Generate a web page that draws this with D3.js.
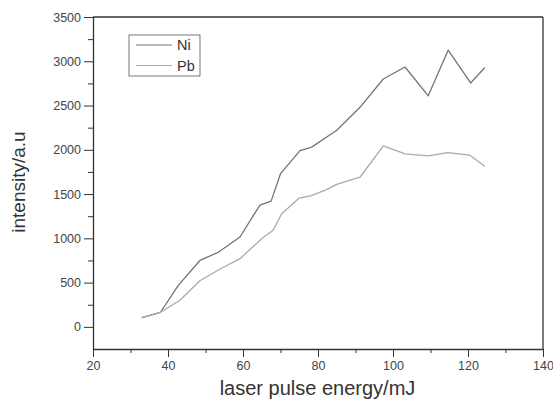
<!DOCTYPE html>
<html>
<head>
<meta charset="utf-8">
<script src="https://cdn.jsdelivr.net/npm/d3@7"></script>
<style>
  body { margin: 0; background: #fff; }
  text { font-family: "Liberation Sans", Arial, sans-serif; }
</style>
</head>
<body>
<div id="chart"></div>
<script>
// data
const niEnergy    = [33, 38, 42.7, 48.5, 53.5, 59.2, 64.5, 67.5, 70, 75.2, 78.3, 85, 91.2, 97.4, 103.2, 109.4, 114.7, 120.7, 124.5];
const niIntensity = [105, 165, 465, 750, 845, 1015, 1375, 1420, 1730, 1990, 2030, 2220, 2480, 2800, 2935, 2610, 3125, 2755, 2930];
const pbEnergy    = [33, 38, 43.2, 48.5, 53.9, 59.2, 65.4, 68, 70.3, 75, 78, 82.3, 85, 91.2, 97.4, 103.2, 109.4, 114.5, 120.5, 124.5];
const pbIntensity = [105, 165, 300, 521, 654, 770, 1012, 1088, 1277, 1455, 1480, 1550, 1610, 1690, 2045, 1955, 1931, 1969, 1939, 1815];
const xTicks = [20, 40, 60, 80, 100, 120, 140];
const yTicks = [0, 500, 1000, 1500, 2000, 2500, 3000, 3500];

const margin = {top: 17, right: 10, bottom: 55, left: 93},
      width = 553 - margin.left - margin.right,
      height = 404 - margin.top - margin.bottom;

const svg = d3.select("#chart")
              .append("svg")
              .attr("width", 553)
              .attr("height", 404)
              .append("g")
              .attr("transform", `translate(${margin.left},${margin.top})`);

const x = d3.scaleLinear().domain([20, 140]).range([0, width]);
const y = d3.scaleLinear().domain([-250, 3500]).range([height, 0]);

const axisColor = "#333";

// minor ticks
svg.append("g")
   .attr("transform", `translate(0,${height})`)
   .call(d3.axisBottom(x).tickValues(d3.range(30, 140, 20)).tickSize(4).tickFormat(""))
   .call(g => g.select(".domain").remove());
svg.append("g")
   .call(d3.axisLeft(y).tickValues(d3.range(250, 3500, 500)).tickSize(5).tickFormat(""))
   .call(g => g.select(".domain").remove());

// main axes
const xAxis = svg.append("g")
   .attr("transform", `translate(0,${height})`)
   .call(d3.axisBottom(x).tickValues(xTicks).tickFormat(d3.format("d"))
           .tickSize(8).tickPadding(4).tickSizeOuter(0));
const yAxis = svg.append("g")
   .call(d3.axisLeft(y).tickValues(yTicks).tickFormat(d3.format("d"))
           .tickSize(9).tickPadding(3).tickSizeOuter(0));

[xAxis, yAxis].forEach(g => {
  g.selectAll("text").style("font-size", "12.5px").attr("fill", "#444");
});
svg.selectAll(".tick line").attr("stroke", axisColor);
svg.selectAll(".domain").attr("stroke", axisColor).attr("stroke-width", 1.3);

// top and right frame
svg.append("line").attr("x1", 0).attr("x2", width).attr("y1", 0).attr("y2", 0)
   .attr("stroke", axisColor).attr("stroke-width", 1.3);
svg.append("line").attr("x1", width).attr("x2", width).attr("y1", 0).attr("y2", height)
   .attr("stroke", axisColor).attr("stroke-width", 1.3);

// lines
const line = d3.line().x(d => x(d[0])).y(d => y(d[1]));
const series = [
  {name: "Ni", color: "#747474", pts: d3.zip(niEnergy, niIntensity)},
  {name: "Pb", color: "#aaaaaa", pts: d3.zip(pbEnergy, pbIntensity)}
];

svg.selectAll(".series")
   .data(series)
   .enter()
   .append("path")
   .attr("fill", "none")
   .attr("stroke", d => d.color)
   .attr("stroke-width", 1.3)
   .attr("stroke-linejoin", "round")
   .attr("d", d => line(d.pts));

// legend
const legend = svg.append("g").attr("transform", "translate(36,18)");
legend.append("rect")
      .attr("width", 71).attr("height", 41)
      .attr("fill", "#fff").attr("stroke", "#555").attr("stroke-width", 0.8);
series.forEach((s, i) => {
  const yy = 10 + i * 20.5;
  legend.append("line")
        .attr("x1", 7).attr("x2", 43).attr("y1", yy).attr("y2", yy)
        .attr("stroke", s.color).attr("stroke-width", 1.2);
  legend.append("text")
        .attr("x", 48).attr("y", yy).attr("dy", "0.35em")
        .style("font-size", "14.5px").attr("fill", "#333")
        .text(s.name);
});

// axis titles
svg.append("text")
   .attr("x", (218 + 417) / 2 - margin.left)
   .attr("y", 395 - margin.top)
   .attr("text-anchor", "middle")
   .style("font-size", "20px").attr("fill", "#333")
   .text("laser pulse energy/mJ");

svg.append("text")
   .attr("transform", `translate(${25 - margin.left},${182 - margin.top}) rotate(-90)`)
   .attr("text-anchor", "middle")
   .style("font-size", "19px").attr("fill", "#333")
   .text("intensity/a.u");
</script>
</body>
</html>
